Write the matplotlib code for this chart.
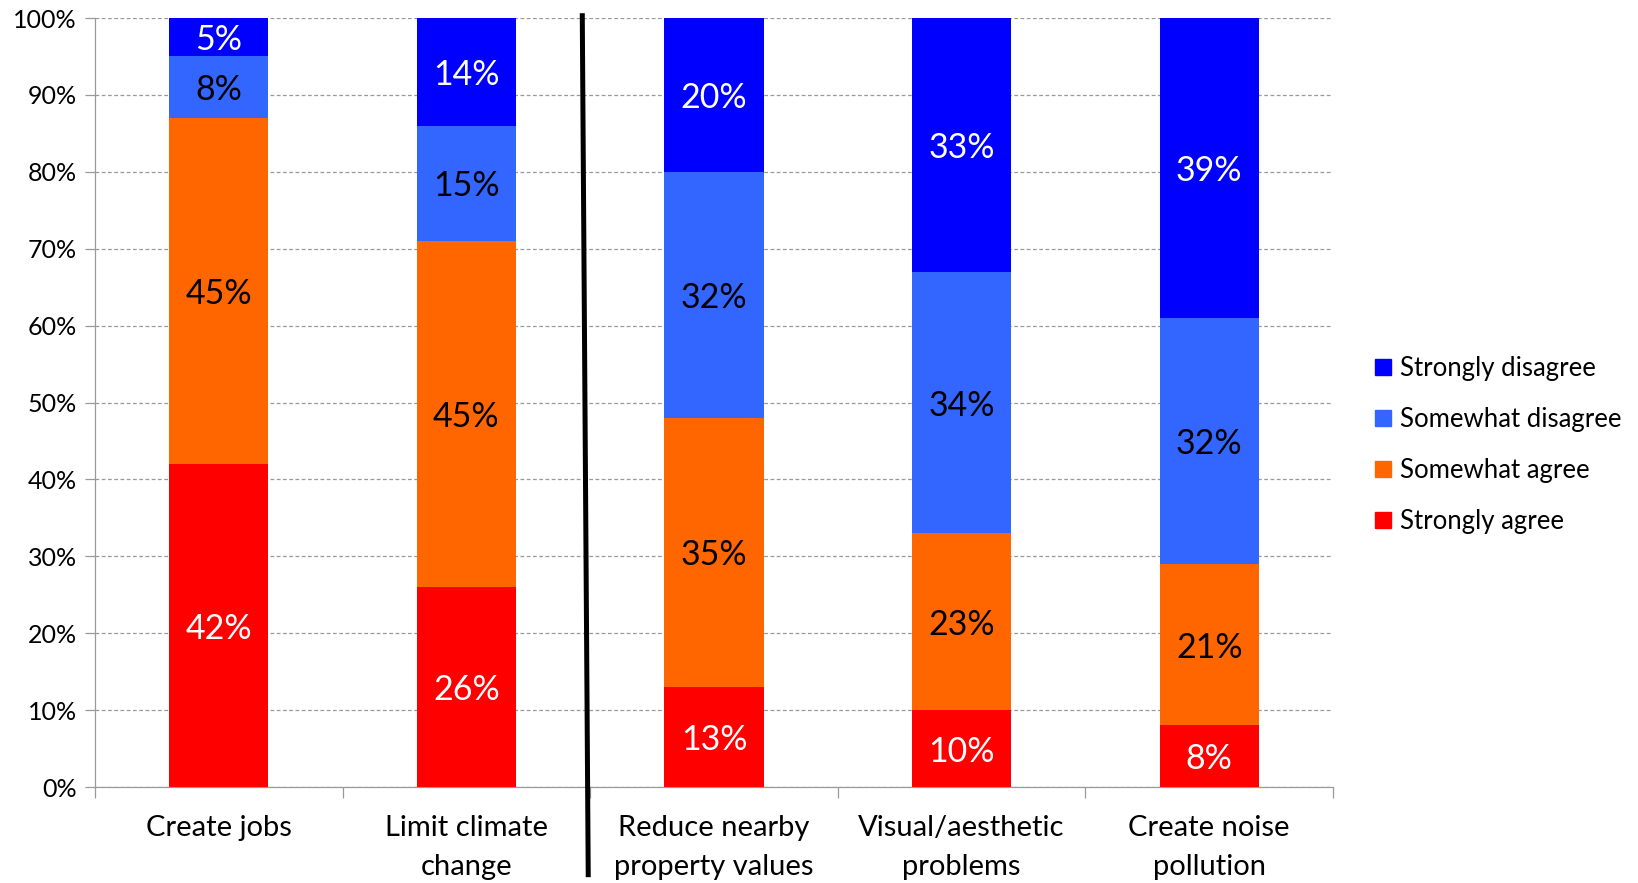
import numpy as np
import matplotlib
matplotlib.use("Agg")
import matplotlib.pyplot as plt
from matplotlib.lines import Line2D

plt.rcParams['font.family'] = ['Lato', 'DejaVu Sans']

# Data (percent of respondents)
categories = ["Create jobs", "Limit climate\nchange", "Reduce nearby\nproperty values",
              "Visual/aesthetic\nproblems", "Create noise\npollution"]
strongly_agree = [42, 26, 13, 10, 8]
somewhat_agree = [45, 45, 35, 23, 21]
somewhat_disagree = [8, 15, 32, 34, 32]
strongly_disagree = [5, 14, 20, 33, 39]

series = [
    ("Strongly agree", strongly_agree, "#FF0000", "white"),
    ("Somewhat agree", somewhat_agree, "#FF6600", "black"),
    ("Somewhat disagree", somewhat_disagree, "#3366FF", "black"),
    ("Strongly disagree", strongly_disagree, "#0000FF", "white"),
]

fig = plt.figure(figsize=(16.38, 8.83), dpi=100)
ax = fig.add_axes([0.058, 0.1087, 0.7558, 0.8709])

x = np.arange(len(categories))
bottom = np.zeros(len(categories))
handles = []
for name, vals, color, txtcolor in series:
    vals = np.array(vals, dtype=float)
    ax.bar(x, vals, width=0.4, bottom=bottom, color=color, zorder=3)
    for xi, b, v in zip(x, bottom, vals):
        ax.text(xi, b + v / 2, "%d%%" % v, ha='center', va='center_baseline',
                color=txtcolor, fontsize=24.5, zorder=4)
    bottom += vals
    handles.append(Line2D([], [], marker='s', linestyle='none', markersize=12,
                          markerfacecolor=color, markeredgecolor=color, label=name))

ax.set_xlim(-0.5, len(categories) - 0.5)
ax.set_ylim(0, 100)
ax.set_yticks(np.arange(0, 101, 10))
ax.set_yticklabels(["%d%%" % t for t in range(0, 101, 10)], fontsize=18)
ax.yaxis.grid(True, linestyle=(0, (3, 2)), color='#999999', linewidth=0.9, zorder=0)
ax.tick_params(axis='y', length=7, width=0.9, color='#999999', pad=6)

# category labels in the middle, tick marks on the boundaries
ax.set_xticks(x)
ax.set_xticklabels(categories, fontsize=21, linespacing=1.65)
ax.tick_params(axis='x', length=0, pad=20)
ax.set_xticks(np.arange(-0.5, len(categories), 1), minor=True)
ax.tick_params(axis='x', which='minor', length=8, width=0.9, color='#999999')

for s in ['top', 'right']:
    ax.spines[s].set_visible(False)
for s in ['left', 'bottom']:
    ax.spines[s].set_color('#999999')
    ax.spines[s].set_linewidth(0.9)

# thick divider between the positive and negative statements
ax.plot([1.468, 1.492], [100.3, -11.4], color='black', linewidth=3.6, clip_on=False, zorder=5)

leg = fig.legend(handles=handles[::-1], loc='center left', bbox_to_anchor=(0.8325, 0.496),
                 frameon=False, fontsize=18.5, handlelength=0.7, handletextpad=0.32,
                 labelspacing=1.0, borderaxespad=0)

fig.savefig("out.png", dpi=100)
